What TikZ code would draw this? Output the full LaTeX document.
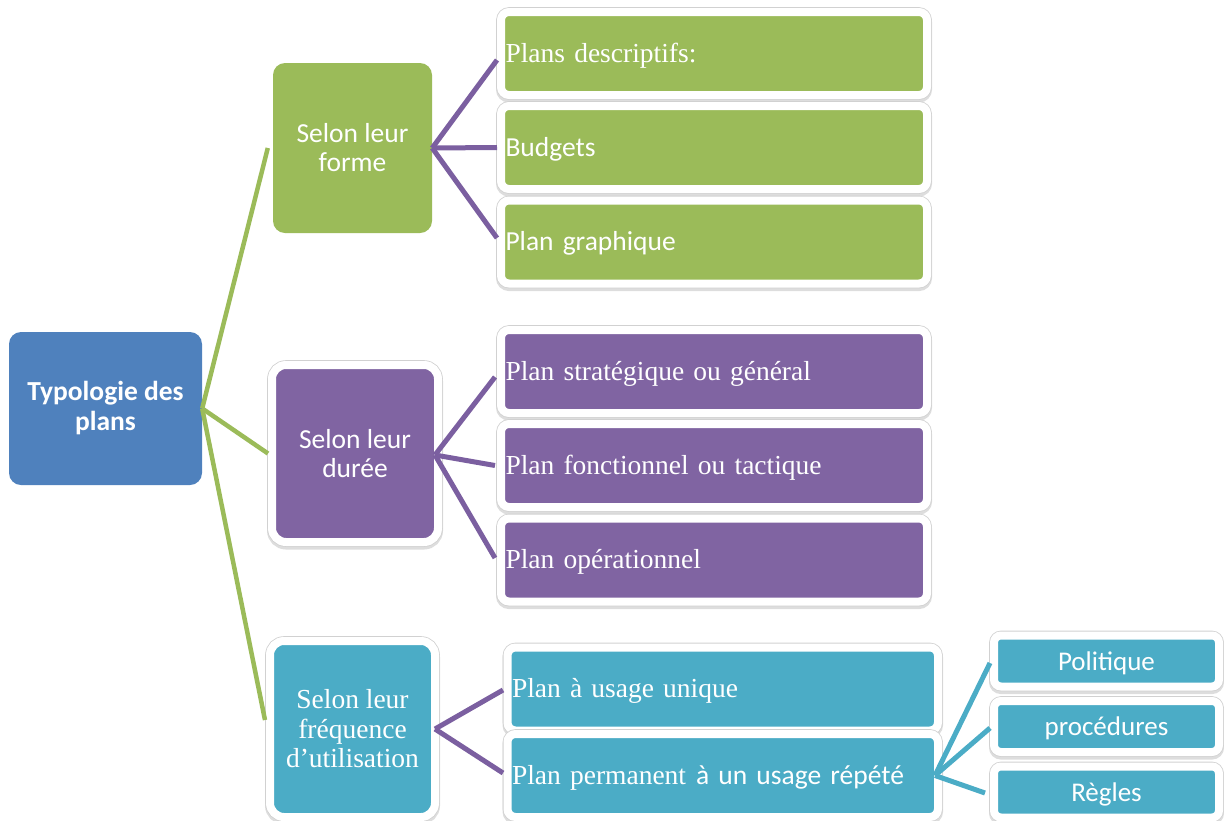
\documentclass[tikz,border=0pt]{standalone}
\usepackage{fontspec}
\setmainfont{Liberation Serif}
\newfontfamily\carl{Carlito}
\definecolor{cblue}{HTML}{4F81BD}
\definecolor{cgreen}{HTML}{9BBB59}
\definecolor{cpurple}{HTML}{8064A2}
\definecolor{cline}{HTML}{7B5FA0}
\definecolor{cteal}{HTML}{4BACC6}
\tikzset{
  sansfont/.style={font=\carl\fontsize{27.5}{29}\selectfont},
  seriffont/.style={font=\fontsize{27.5}{29.5}\selectfont},
  box/.style={rounded corners=12pt, inner sep=0pt, text=white, align=center},
  framed/.style={draw=white, line width=8pt, outer sep=0pt,
    preaction={draw=black!60, line width=10pt, opacity=0.22,
      transform canvas={yshift=-2.5pt}},
    preaction={draw=black!18, line width=9.6pt}},
  leaf/.style={framed, rounded corners=8pt, inner xsep=4.5pt, inner ysep=0pt,
    text=white, align=left, text height=20pt, text depth=3pt,
    minimum height=83pt, text width=417pt, seriffont},
  tleaf/.style={leaf, text width=421.5pt},
  smallbox/.style={framed, rounded corners=7pt, fill=cteal, inner sep=0pt,
    text=white, minimum width=225pt, minimum height=51pt,
    text height=19pt, text depth=1pt, font=\carl\fontsize{27}{29}\selectfont},
  gline/.style={draw=cgreen, line width=4.5pt},
  pline/.style={draw=cline, line width=5pt},
  tline/.style={draw=cteal, line width=5pt},
}
\begin{document}
\begin{tikzpicture}[x=1pt,y=-1pt]
\useasboundingbox (0,0) rectangle (1224,820);

% central node
\node[box, fill=cblue, minimum width=193pt, minimum height=153pt,
  font=\carl\bfseries\fontsize{27.5}{30}\selectfont] (root) at (105.5,408.5) {Typologie des\\plans};

% second level
\node[box, fill=cgreen, minimum width=159pt, minimum height=170pt, sansfont] (forme) at (352.5,148) {Selon leur\\forme};
\node[box, framed, rounded corners=14pt, fill=cpurple, minimum width=166pt, minimum height=177pt, sansfont] (duree) at (355,453.5) {Selon leur\\durée};
\node[box, framed, rounded corners=14pt, fill=cteal, minimum width=165pt, minimum height=176pt, seriffont] (freq) at (352.5,729) {Selon leur\\fréquence\\d’utilisation};

% green leaves
\node[leaf, fill=cgreen] (g1) at (714,53.5) {Plans descriptifs:};
\node[leaf, fill=cgreen, sansfont] (g2) at (714,147.5) {Budgets};
\node[leaf, fill=cgreen, sansfont] (g3) at (714,242) {Plan graphique};

% purple leaves
\node[leaf, fill=cpurple] (p1) at (714,371.5) {Plan stratégique ou général};
\node[leaf, fill=cpurple] (p2) at (714,465.5) {Plan fonctionnel ou tactique};
\node[leaf, fill=cpurple] (p3) at (714,560) {Plan opérationnel};

% teal leaves
\node[tleaf, fill=cteal] (t1) at (722.75,689) {Plan à usage unique};
\node[tleaf, fill=cteal] (t2) at (722.75,775.5) {Plan permanent\hspace{10pt}{\carl à un usage répété}};

% small boxes
\node[smallbox] (s1) at (1106.5,661) {Politique};
\node[smallbox] (s2) at (1106.5,726.5) {procédures};
\node[smallbox] (s3) at (1106.5,792) {Règles};

% connectors
\draw[gline] (root.east) -- ([xshift=-5pt]forme.west);
\draw[gline] (root.east) -- ([xshift=-4pt]duree.west);
\draw[gline] (root.east) -- ([shift={(-5,-9)}]freq.west);

\draw[pline] (forme.east) -- ([shift={(-4,6.5)}]g1.west);
\draw[pline] (forme.east) -- ([xshift=-4pt]g2.west);
\draw[pline] (forme.east) -- ([shift={(-4,-4)}]g3.west);

\draw[pline] ([shift={(-3,1.5)}]duree.east) -- ([shift={(-6,5.5)}]p1.west);
\draw[pline] ([shift={(-3,1.5)}]duree.east) -- ([xshift=-6pt]p2.west);
\draw[pline] ([shift={(-3,1.5)}]duree.east) -- ([shift={(-6,-2)}]p3.west);

\draw[pline] (freq.east) -- ([shift={(-4.5,1)}]t1.west);
\draw[pline] (freq.east) -- ([shift={(-4.5,-2.5)}]t2.west);

\draw[tline] ([xshift=-3pt]t2.east) -- ([shift={(-4,2)}]s1.west);
\draw[tline] ([xshift=-3pt]t2.east) -- ([shift={(-4,1.5)}]s2.west);
\draw[tline] ([xshift=-3pt]t2.east) -- ([shift={(-9,1)}]s3.west);
\end{tikzpicture}
\end{document}
